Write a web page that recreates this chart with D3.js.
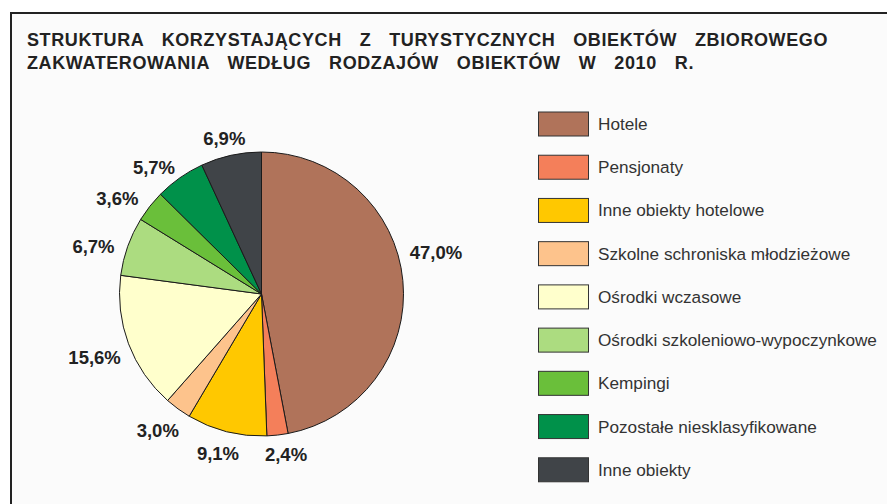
<!DOCTYPE html>
<html><head><meta charset="utf-8">
<script src="https://cdn.jsdelivr.net/npm/d3@7"></script>
<style>body{margin:0;background:#fff}svg{display:block}</style>
</head><body>
<svg id="c" width="887" height="504"></svg>
<script>
const categories = ["Hotele","Pensjonaty","Inne obiekty hotelowe","Szkolne schroniska młodzieżowe","Ośrodki wczasowe","Ośrodki szkoleniowo-wypoczynkowe","Kempingi","Pozostałe niesklasyfikowane","Inne obiekty"];
const values = [47.0,2.4,9.1,3.0,15.6,6.7,3.6,5.7,6.9];
const valueLabels = ["47,0%","2,4%","9,1%","3,0%","15,6%","6,7%","3,6%","5,7%","6,9%"];
const colors = ["#b0735a","#f47f5a","#ffc800","#fdc38c","#ffffcc","#acdc80","#6abf3a","#00914a","#404448"];
const titleLines = ["STRUKTURA KORZYSTAJĄCYCH Z TURYSTYCZNYCH OBIEKTÓW ZBIOROWEGO","ZAKWATEROWANIA WEDŁUG RODZAJÓW OBIEKTÓW W 2010 R."];

const FONT = "Liberation Sans, Arial, sans-serif";
const svg = d3.select("#c");
svg.append("rect").attr("x",11).attr("y",13).attr("width",900).attr("height",520)
  .attr("fill","#fbfbfb").attr("stroke","#222").attr("stroke-width",2);

const titleWidths = [801, 667];
titleLines.forEach((t,i)=>{
  const tx = svg.append("text").attr("x",27).attr("y",45.5+i*23)
    .attr("font-family",FONT).attr("font-weight","bold").attr("letter-spacing",0.6)
    .attr("font-size",18).attr("fill","#222").text(t);
  const nat = tx.node().getComputedTextLength();
  const spaces = t.split(" ").length-1;
  const ws = (titleWidths[i]-nat)/spaces;
  if (ws>0) tx.attr("word-spacing", ws);
  else tx.attr("textLength",titleWidths[i]).attr("lengthAdjust","spacingAndGlyphs");
});

const cx=261.5, cy=294, r=142;
const g = svg.append("g").attr("transform",`translate(${cx},${cy})`);
const pie = d3.pie().sort(null).value(d=>d);
const arcs = pie(values);
const arc = d3.arc().innerRadius(0).outerRadius(r);
g.selectAll("path").data(arcs).join("path").attr("d",arc)
  .attr("fill",(d,i)=>colors[i]).attr("stroke","#1a1a1a").attr("stroke-width",1);

// label layout nudges (pixels), applied after radial placement
const nudges = [[-3,-27],[5,2.5],[-1,6],[-2,8],[0,7.5],[-5,6],[-8,2.5],[-8,3],[0,-1]];
g.selectAll("text.lbl").data(arcs).join("text").attr("class","lbl")
  .attr("font-family",FONT).attr("font-weight","bold")
  .attr("font-size",18.5).attr("fill","#222").attr("text-anchor","middle")
  .text((d,i)=>valueLabels[i])
  .each(function(d,i){
    const a=(d.startAngle+d.endAngle)/2;
    const w=this.getComputedTextLength(), h=13;
    const pr=r+10;
    const x=Math.sin(a)*(pr + w/2) + nudges[i][0];
    const y=-Math.cos(a)*(pr + h/2) + nudges[i][1];
    d3.select(this).attr("x",x).attr("y",y+6.6);
  });

const legendY = d3.scaleBand().domain(categories).range([103,492]);
const lg = svg.append("g");
categories.forEach((c,i)=>{
  const y = legendY(c);
  lg.append("rect").attr("x",538.5).attr("y",y+9).attr("width",50).attr("height",24)
    .attr("fill",colors[i]).attr("stroke","#333").attr("stroke-width",1);
  lg.append("text").attr("x",598).attr("y",y+27)
    .attr("font-family",FONT).attr("font-size",17.2)
    .attr("fill","#333").text(c);
});
</script>
</body></html>
